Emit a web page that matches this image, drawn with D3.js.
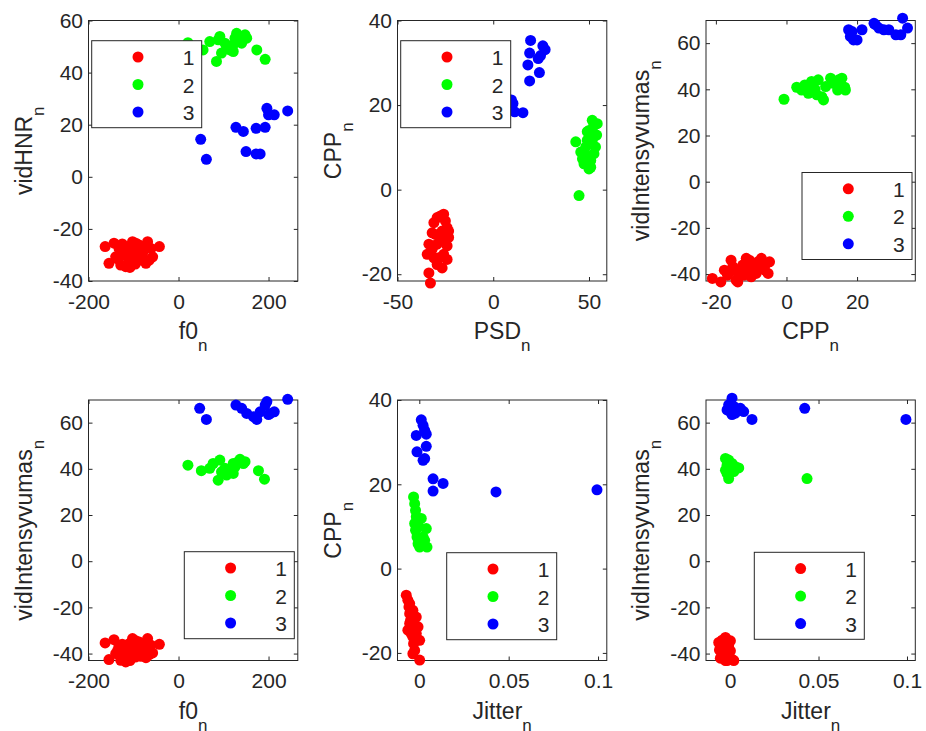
<!DOCTYPE html>
<html>
<head>
<meta charset="utf-8">
<script src="https://cdn.jsdelivr.net/npm/d3@7"></script>
<style>
  html, body { margin: 0; padding: 0; background: #fff; }
  svg { display: block; }
</style>
</head>
<body>
<script>
// ---------- data ----------
const groups = ["1", "2", "3"];
const colors = ["#ff0000", "#00ff00", "#0000ff"];

// panel 1: f0_n vs vidHNR_n
const f0HNR_1 = [[-163,-26.8],[-154.5,-33.2],[-143.3,-25.5],[-132.1,-27.5],[-120.9,-29.4],[-117.2,-34.5],[-109.7,-26.8],[-102.2,-24.9],[-98.5,-30.7],[-91,-28.1],[-87.3,-26.2],[-79.9,-29.4],[-72.4,-33.2],[-68.7,-24.9],[-61.2,-27.5],[-57.5,-30.7],[-42.5,-26.8],[-139.6,-30.7],[-106,-32.6],[-128.4,-33.9],[-83.6,-31.9],[-94.8,-25.5],[-113,-31],[-125,-25.8],[-100,-28.5],[-88,-30],[-75,-27.5],[-65,-32],[-135,-31.5],[-108,-34.8],[-96,-33.5]];
const f0HNR_2 = [[20.9,51.5],[54.5,48.7],[69.4,51.9],[88.1,52.6],[91.8,53.9],[103,51.3],[106.7,49.4],[114.2,48.7],[121.6,50.7],[125.4,53.2],[132.8,51.9],[140.3,51.3],[147.8,54.5],[151.5,53.2],[121.6,48.1],[95.5,47.5],[173.9,48.7],[192.5,45.1],[129.1,55.1],[84.3,44.3]];
const f0HNR_3 = [[49.3,14.4],[61.9,6.7],[127.6,19],[144,17.4],[150,9.7],[172.4,8.8],[181.3,8.8],[172.4,18.6],[192.5,19],[196.3,26.3],[200,23.8],[212.7,23.8],[242.5,25.3]];

// panel 2: PSD_n vs CPP_n
const psdCPP_1 = [[-32.8,-22.1],[-33.6,-19.7],[-34.5,-15.3],[-33.6,-12.9],[-31.9,-10.2],[-31,-7.8],[-29.3,-6.6],[-27.6,-6.2],[-25.9,-5.8],[-25,-7.4],[-24.1,-9],[-23.3,-11.3],[-24.1,-13.3],[-25.9,-15.3],[-28.4,-16.1],[-29.3,-17.7],[-26.7,-18.5],[-24.1,-16.5],[-27.6,-12.1],[-30.2,-10.6],[-31.9,-14.1],[-26.7,-9.8],[-25,-10.6],[-29.3,-12.9],[-31,-16.1],[-23.3,-9.8]];
const psdCPP_2 = [[44.8,-1.4],[43.1,11.3],[45.7,8.9],[46.6,7.3],[47.4,6.1],[48.3,10.1],[49.1,11.7],[50,14],[50.9,12.9],[51.7,16.4],[52.6,15.2],[54.3,15.6],[54,12.9],[53.4,10.1],[52.6,8.5],[50.9,6.9],[50.9,5.3],[50,4.9],[51.7,11.7],[48.3,8.1],[49.1,13.7]];
const psdCPP_3 = [[19.5,35.3],[19,32.3],[18.1,29.5],[19,25.7],[24.1,27.7],[24.7,31.7],[25.9,34],[27.1,33.1],[9.5,21.2],[10.3,20.4],[11.2,18.4],[15.5,18.2],[23.5,31]];

// panel 3: CPP_n vs vidIntensyvumas_n
const cppInt_1 = [[-21,-41.9],[-18.6,-43.4],[-16.7,-40.5],[-15.7,-34],[-15.2,-36.8],[-14.3,-42.6],[-13.3,-39],[-12.4,-36.1],[-11.4,-33.2],[-11,-37.6],[-10,-41.2],[-9,-36.8],[-8.1,-34.7],[-7.1,-33.2],[-6.2,-38.3],[-5.7,-35.4],[-5.2,-39.7],[-4.8,-34.7],[-13.8,-43.4],[-17.6,-38.3],[-10.5,-34],[-8.6,-39.7],[-14.8,-38.5],[-12,-40.5],[-9.5,-38],[-7.5,-37]];
const cppInt_2 = [[-0.7,35.7],[2.9,40.9],[4.3,39.7],[5.2,41.9],[6.2,38.3],[7.1,43.4],[8.1,40],[9,44.1],[10,36.8],[10.5,35.4],[11.1,41.2],[12.5,44.8],[13.3,42.6],[14.5,39.7],[14.8,44.1],[15.7,44.8],[16.5,40.9],[16.7,39.7],[8.6,37.6],[5.7,40.4]];
const cppInt_3 = [[17.6,65.8],[18.1,62.9],[18.6,65],[19,61.4],[20,61.4],[21.4,65.8],[24.8,68.6],[26.2,66.5],[27.6,65.8],[29,65.8],[31,63.6],[32.4,63.6],[32.9,70.8],[34.3,66.5],[25.2,68]];

// panel 4: f0_n vs vidIntensyvumas_n
const f0Int_1 = [[-163,-35.4],[-154.5,-42.6],[-143.3,-34],[-132.1,-36.4],[-120.9,-39.3],[-117.2,-43.6],[-109.7,-35.7],[-102.2,-33.5],[-98.5,-40],[-91,-37.1],[-87.3,-35],[-79.9,-38.6],[-72.4,-41.8],[-68.7,-33.5],[-61.2,-36.4],[-57.5,-39.7],[-42.5,-36],[-139.6,-40],[-106,-42.2],[-128.4,-42.9],[-83.6,-41.2],[-94.8,-34.5],[-113,-38.5],[-125,-36],[-100,-38],[-88,-39.5],[-75,-36.5],[-65,-40.5],[-135,-38.5],[-108,-43],[-96,-41.5]];
const f0Int_2 = [[20.9,41.6],[50.7,39.2],[88.1,35.1],[91.8,43.8],[103,40.2],[106.7,37.3],[114.2,39.5],[121.6,42.3],[125.4,40.9],[132.8,43.1],[136.6,44.1],[144,42.3],[147.8,43.1],[95.5,38.7],[121.6,38],[177.6,39.2],[191,35.5],[76.9,42.3],[69.4,40.2]];
const f0Int_3 = [[47,66.2],[61.9,61.4],[127.6,67.6],[140.3,66.2],[151.5,64],[173.9,61.4],[181.3,64.7],[192.5,67.6],[196.3,69.1],[203.7,64],[212.7,64.7],[242.5,70.1],[166.4,62.6],[200,63.5]];

// panel 5: Jitter_n vs CPP_n
const jitCPP_1 = [[-0.0073,-6.3],[-0.0064,-7.5],[-0.0058,-9.1],[-0.0054,-10.7],[-0.0049,-12.3],[-0.0045,-13.4],[-0.0045,-15.4],[-0.0036,-16.2],[-0.0032,-17.8],[-0.0026,-19.4],[-0.0036,-20.2],[0.0002,-21.7],[0.0002,-17],[-0.0007,-13.8],[-0.0017,-11.5],[-0.0036,-9.9],[-0.0054,-8.3],[-0.0064,-14.6],[-0.0017,-15.4],[-0.0054,-13]];
const jitCPP_2 = [[-0.0032,17],[-0.0026,15.4],[-0.0021,13.8],[-0.0017,12.3],[-0.0007,11.1],[-0.0002,9.9],[-0.0021,9.1],[-0.0013,7.5],[-0.0007,5.9],[0.0002,5.1],[0.0039,9.5],[0.0043,5.1],[0.0021,7.5],[0.0011,11.9],[-0.0026,10.7],[0.003,6.7]];
const jitCPP_3 = [[0.0011,35.3],[0.0021,34],[0.003,32.8],[-0.0017,31.6],[0.0039,31.9],[0.0039,29],[-0.0013,27.7],[0.0021,25.7],[0.003,26.1],[0.0077,21.3],[0.0077,18.4],[0.0133,20.2],[0.0429,18.2],[0.0994,18.7]];

// panel 6: Jitter_n vs vidIntensyvumas_n
const jitInt_1 = [[-0.0064,-35.2],[-0.0055,-37.4],[-0.0045,-39.6],[-0.0036,-41.7],[-0.0026,-43],[-0.0017,-40.3],[-0.0008,-36.7],[0.0002,-38.8],[0.0011,-42.5],[0.0002,-34.5],[-0.0026,-33],[-0.0045,-34.2],[0.0021,-43],[-0.0017,-43],[-0.0055,-42],[-0.006,-38.5]];
const jitInt_2 = [[-0.0026,44.5],[-0.0017,41.6],[-0.0026,39.4],[-0.0008,35.8],[-0.0017,38],[0.0002,40.4],[0.0011,42.3],[0.003,40.9],[0.0049,40.4],[0.0021,38.8],[-0.0008,43.8],[0.0435,35.8]];
const jitInt_3 = [[0.0011,70.6],[-0.0017,65.5],[0.0002,64.8],[0.0021,67],[0.003,64.1],[0.0058,66.2],[0.0077,64.8],[0.0124,61.4],[0.0422,66.2],[0.0994,61.4],[-0.0008,67.7],[0.0011,63.5]];

// tick values
const f0Ticks = [-200, 0, 200];
const psdTicks = [-50, 0, 50];
const cppXTicks = [-20, 0, 20];
const jitterTicks = [0, 0.05, 0.1];
const hnrTicks = [-40, -20, 0, 20, 40, 60];
const cppTicks = [-20, 0, 20, 40];
const intTicks = [-40, -20, 0, 20, 40, 60];

// ---------- layout ----------
const W = 926, H = 731;
const FONT = "'Liberation Sans', Arial, Helvetica, sans-serif";
const TXT = "#262626";
const colL = [88.5, 397.5, 706], axW = 209.3;
const rowT = [20.5, 400], axH = 260.5;

const panels = [
  {col:0,row:0,xd:[-200,265],yd:[-40,60],xt:f0Ticks,yt:hnrTicks,xl:"f0",yl:"vidHNR",s:[f0HNR_1,f0HNR_2,f0HNR_3],lg:[91.7,40.7]},
  {col:1,row:0,xd:[-50,59.3],yd:[-21.6,40],xt:psdTicks,yt:cppTicks,xl:"PSD",yl:"CPP",s:[psdCPP_1,psdCPP_2,psdCPP_3],lg:[400.7,40.7]},
  {col:2,row:0,xd:[-22.8,36.5],yd:[-43,69.8],xt:cppXTicks,yt:intTicks,xl:"CPP",yl:"vidIntensyvumas",s:[cppInt_1,cppInt_2,cppInt_3],lg:[802,172.5]},
  {col:0,row:1,xd:[-200,265],yd:[-43,69.8],xt:f0Ticks,yt:intTicks,xl:"f0",yl:"vidIntensyvumas",s:[f0Int_1,f0Int_2,f0Int_3],lg:[184.3,551.7]},
  {col:1,row:1,xd:[-0.0122,0.1049],yd:[-21.8,40],xt:jitterTicks,yt:cppTicks,xl:"Jitter",yl:"CPP",s:[jitCPP_1,jitCPP_2,jitCPP_3],lg:[446.7,552.7]},
  {col:2,row:1,xd:[-0.0136,0.1047],yd:[-43,69.8],xt:jitterTicks,yt:intTicks,xl:"Jitter",yl:"vidIntensyvumas",s:[jitInt_1,jitInt_2,jitInt_3],lg:[754.3,552.3]}
];

const svg = d3.select("body").append("svg").attr("width", W).attr("height", H)
  .style("font-family", FONT);
svg.append("rect").attr("width", W).attr("height", H).attr("fill", "#fff");

const fmt = d => String(d);

panels.forEach(p => {
  const L = colL[p.col], T = rowT[p.row];
  const x = d3.scaleLinear().domain(p.xd).range([L, L + axW]);
  const y = d3.scaleLinear().domain(p.yd).range([T + axH, T]);
  const g = svg.append("g");

  // box
  g.append("rect").attr("x", L).attr("y", T).attr("width", axW).attr("height", axH)
    .attr("fill", "none").attr("stroke", TXT).attr("stroke-width", 1);

  const style = sel => {
    sel.select(".domain").remove();
    sel.selectAll(".tick line").attr("stroke", TXT).attr("stroke-width", 1);
    sel.selectAll(".tick text").attr("fill", TXT).style("font-size", "21px").style("font-family", FONT);
  };
  g.append("g").attr("transform", `translate(0,${T + axH})`)
    .call(d3.axisBottom(x).tickValues(p.xt).tickSize(-4).tickPadding(13).tickFormat(fmt)).call(style);
  g.append("g").attr("transform", `translate(0,${T})`)
    .call(d3.axisTop(x).tickValues(p.xt).tickSize(-4).tickFormat("")).call(style);
  g.append("g").attr("transform", `translate(${L},0)`)
    .call(d3.axisLeft(y).tickValues(p.yt).tickSize(-4).tickPadding(5.5).tickFormat(fmt)).call(style);
  g.append("g").attr("transform", `translate(${L + axW},0)`)
    .call(d3.axisRight(y).tickValues(p.yt).tickSize(-4).tickFormat("")).call(style);

  // points
  p.s.forEach((ser, i) => {
    g.append("g").selectAll("circle").data(ser).join("circle")
      .attr("cx", d => x(d[0])).attr("cy", d => y(d[1])).attr("r", 5.5)
      .attr("fill", colors[i]);
  });

  // x label
  const xl = g.append("text").attr("x", L + axW / 2).attr("y", T + axH + 58)
    .attr("text-anchor", "middle").attr("fill", TXT).style("font-size", "23px");
  xl.append("tspan").text(p.xl);
  xl.append("tspan").attr("dy", 12).style("font-size", "17px").text("n");

  // y label
  const yl = g.append("text").attr("transform", `translate(${L - 57},${T + axH / 2}) rotate(-90)`)
    .attr("text-anchor", "middle").attr("fill", TXT).style("font-size", "23px");
  yl.append("tspan").text(p.yl);
  yl.append("tspan").attr("dy", 12).style("font-size", "17px").text("n");

  // legend
  const [lx, ly] = p.lg;
  const lgG = g.append("g");
  lgG.append("rect").attr("x", lx).attr("y", ly).attr("width", 110).attr("height", 87)
    .attr("fill", "#fff").attr("stroke", TXT).attr("stroke-width", 1);
  groups.forEach((name, i) => {
    const cy = ly + 16.3 + i * 27.5;
    lgG.append("circle").attr("cx", lx + 46.3).attr("cy", cy).attr("r", 5.5).attr("fill", colors[i]);
    lgG.append("text").attr("x", lx + 91).attr("y", cy + 8).attr("fill", TXT)
      .style("font-size", "21px").text(name);
  });
});
</script>
</body>
</html>
